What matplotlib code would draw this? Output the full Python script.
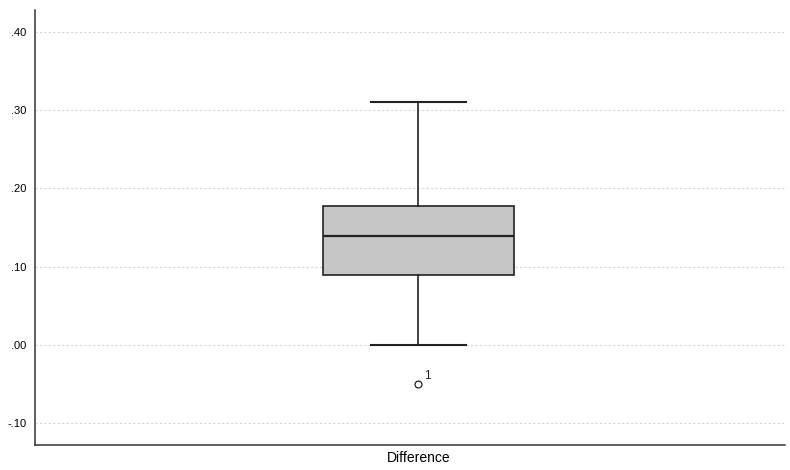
import matplotlib.pyplot as plt
from matplotlib.ticker import FuncFormatter

plt.rcParams['font.family'] = ['Liberation Sans', 'DejaVu Sans']

# summary statistics for the Difference variable
labels = ['Difference']
whisker_low = [0.00]
q1 = [0.089]
median = [0.139]
q3 = [0.177]
whisker_high = [0.31]
outliers = [[-0.05]]
outlier_ids = [['1']]

stats = []
for i in range(len(labels)):
    stats.append({'label': labels[i], 'whislo': whisker_low[i], 'q1': q1[i], 'med': median[i],
                  'q3': q3[i], 'whishi': whisker_high[i], 'fliers': outliers[i]})

fig = plt.figure(figsize=(7.9, 4.7), dpi=100)
ax = fig.add_axes([0.044, 0.053, 0.950, 0.925])

ax.bxp(stats, positions=[1], widths=0.255, patch_artist=True, showfliers=False,
       boxprops=dict(facecolor='#c6c6c6', edgecolor='#222222', linewidth=1.2),
       medianprops=dict(color='#222222', linewidth=1.6),
       whiskerprops=dict(color='#222222', linewidth=1.2),
       capprops=dict(color='#222222', linewidth=1.5),
       capwidths=0.127, zorder=3)

# outliers with case numbers
for i in range(len(labels)):
    for v, cid in zip(outliers[i], outlier_ids[i]):
        ax.plot(1, v, marker='o', markersize=5, markerfacecolor='white',
                markeredgecolor='#222222', markeredgewidth=0.9, zorder=4)
        ax.annotate(cid, (1, v), xytext=(4, 4), textcoords='offset points',
                    fontsize=8.5, color='#222222')

ax.set_xlim(0.489, 1.489)
ax.set_ylim(-0.1276, 0.427)
ax.set_yticks([-0.1, 0.0, 0.1, 0.2, 0.3, 0.4])
ax.yaxis.set_major_formatter(FuncFormatter(lambda v, p: ('%.2f' % v).replace('0.', '.')))
ax.set_xticks([1])
ax.set_xticklabels(labels)
ax.tick_params(axis='x', length=0, labelsize=10, pad=4)
ax.tick_params(axis='y', length=0, labelsize=8, pad=6)
ax.yaxis.grid(True, linestyle=(0, (2, 2)), color='#d4d4d4', linewidth=0.8)
ax.set_axisbelow(True)

for s in ['top', 'right']:
    ax.spines[s].set_visible(False)
for s in ['left', 'bottom']:
    ax.spines[s].set_color('#333333')
    ax.spines[s].set_linewidth(1.1)

plt.savefig('out.png')
